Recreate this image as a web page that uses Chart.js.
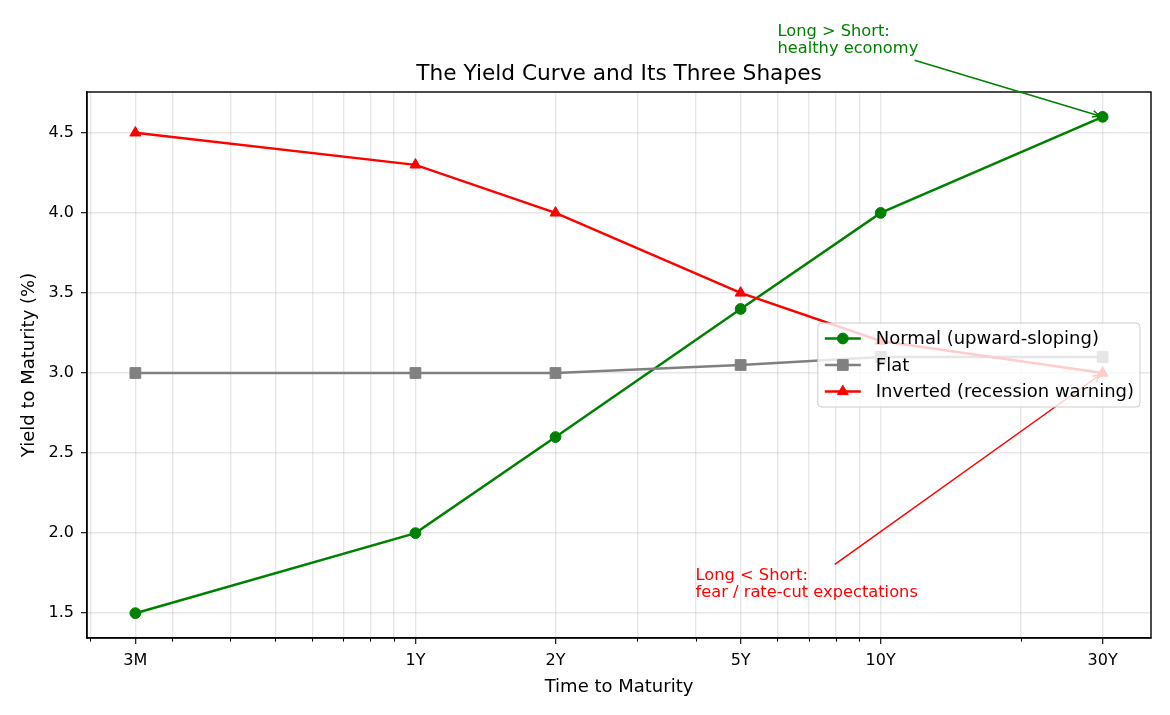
<!DOCTYPE html>
<html>
<head>
<meta charset="utf-8">
<script src="https://cdn.jsdelivr.net/npm/chart.js@4.4.1/dist/chart.umd.min.js"></script>
<style>
  html, body { margin: 0; padding: 0; background: #fff; }
</style>
</head>
<body>
<canvas id="chart" width="1170" height="715"></canvas>
<script>
// yield curve - three shapes on a log maturity axis

const maturities = [0.25, 1, 2, 5, 10, 30];
const maturityLabels = ['3M', '1Y', '2Y', '5Y', '10Y', '30Y'];
const normalYields = [1.5, 2.0, 2.6, 3.4, 4.0, 4.6];
const flatYields = [3.0, 3.0, 3.0, 3.05, 3.1, 3.1];
const invertedYields = [4.5, 4.3, 4.0, 3.5, 3.2, 3.0];
const minorTicks = [0.2, 0.3, 0.4, 0.5, 0.6, 0.7, 0.8, 0.9, 3, 4, 6, 7, 8, 9, 20];
const yTicks = [1.5, 2.0, 2.5, 3.0, 3.5, 4.0, 4.5];

const seriesNames = ['Normal (upward-sloping)', 'Flat', 'Inverted (recession warning)'];
const seriesColors = ['#008000', '#808080', '#ff0000'];
const seriesMarkers = ['circle', 'rect', 'triangle'];
const markerRadius = [5.4, 7.6, 6.3];

const notes = [
  { lines: ['Long > Short:', 'healthy economy'], at: [6, 5.0], target: [30, 4.6], color: '#008000' },
  { lines: ['Long < Short:', 'fear / rate-cut expectations'], at: [4, 1.6], target: [30, 3.0], color: '#ff0000' },
];

const FONT = '"DejaVu Sans", sans-serif';

// matplotlib-style 5% margins
const allYields = normalYields.concat(flatYields, invertedYields);
const yLo = Math.min(...allYields), yHi = Math.max(...allYields);
const yPad = (yHi - yLo) * 0.05;
const lx0 = Math.log10(maturities[0]), lx1 = Math.log10(maturities[maturities.length - 1]);
const xPad = (lx1 - lx0) * 0.05;

const toPoints = (vals) => vals.map((v, i) => ({ x: maturities[i], y: v }));
const seriesValues = [normalYields, flatYields, invertedYields];

const datasets = seriesValues.map((vals, i) => ({
  label: seriesNames[i],
  data: toPoints(vals),
  borderColor: seriesColors[i],
  backgroundColor: seriesColors[i],
  pointBackgroundColor: seriesColors[i],
  pointBorderColor: seriesColors[i],
  pointStyle: seriesMarkers[i],
  pointRadius: markerRadius[i],
  pointBorderWidth: 1,
  borderWidth: 2.5,
  tension: 0,
  order: 3 - i,
}));

const xTickValues = maturities.concat(minorTicks).sort((a, b) => a - b);

function drawArrow(ctx, x0, y0, x1, y1, color) {
  const ang = Math.atan2(y1 - y0, x1 - x0);
  const headLen = 8, spread = 0.42;
  ctx.save();
  ctx.strokeStyle = color;
  ctx.lineWidth = 1.5;
  ctx.beginPath();
  ctx.moveTo(x0, y0);
  ctx.lineTo(x1, y1);
  ctx.moveTo(x1 - headLen * Math.cos(ang - spread), y1 - headLen * Math.sin(ang - spread));
  ctx.lineTo(x1, y1);
  ctx.lineTo(x1 - headLen * Math.cos(ang + spread), y1 - headLen * Math.sin(ang + spread));
  ctx.stroke();
  ctx.restore();
}

const decorPlugin = {
  id: 'decor',
  afterDraw(chart) {
    const { ctx, chartArea: a, scales: { x, y } } = chart;
    ctx.save();

    // minor ticks on x
    ctx.strokeStyle = '#000';
    ctx.lineWidth = 1.1;
    minorTicks.forEach((v) => {
      const px = Math.round(x.getPixelForValue(v)) + 0.5;
      ctx.beginPath();
      ctx.moveTo(px, a.bottom);
      ctx.lineTo(px, a.bottom + 3.6);
      ctx.stroke();
    });

    // frame
    ctx.lineWidth = 1.4;
    ctx.strokeRect(a.left, a.top, a.right - a.left, a.bottom - a.top);

    // titles
    ctx.fillStyle = '#000';
    ctx.textBaseline = 'alphabetic';
    ctx.textAlign = 'center';
    const cx = (a.left + a.right) / 2;
    ctx.font = '21.7px ' + FONT;
    ctx.fillText('The Yield Curve and Its Three Shapes', cx, a.top - 12);
    ctx.font = '18px ' + FONT;
    ctx.fillText('Time to Maturity', cx, a.bottom + 54);
    ctx.save();
    ctx.translate(34, (a.top + a.bottom) / 2);
    ctx.rotate(-Math.PI / 2);
    ctx.fillText('Yield to Maturity (%)', 0, 0);
    ctx.restore();

    // annotations
    ctx.font = '16.25px ' + FONT;
    ctx.textAlign = 'left';
    const lineH = 17, pad = 3.5;
    notes.forEach((n) => {
      const tx = x.getPixelForValue(n.at[0]);
      const ty = y.getPixelForValue(n.at[1]);
      ctx.fillStyle = n.color;
      const last = n.lines.length - 1;
      n.lines.forEach((s, i) => ctx.fillText(s, tx, ty - (last - i) * lineH));
      const w = Math.max(...n.lines.map((s) => ctx.measureText(s).width));
      const bx0 = tx - pad, bx1 = tx + w + pad;
      const by0 = ty - last * lineH - 12.3 - pad, by1 = ty + 3.9 + pad;
      const bcx = (bx0 + bx1) / 2, bcy = (by0 + by1) / 2;
      const px = x.getPixelForValue(n.target[0]);
      const py = y.getPixelForValue(n.target[1]);
      const dx = px - bcx, dy = py - bcy;
      const t = Math.min((bx1 - bcx) / Math.abs(dx || 1e-9), (by1 - bcy) / Math.abs(dy || 1e-9));
      const sx = bcx + dx * t, sy = bcy + dy * t;
      const len = Math.hypot(px - sx, py - sy);
      const ex = px - (px - sx) / len * 3, ey = py - (py - sy) / len * 3;
      drawArrow(ctx, sx, sy, ex, ey, n.color);
    });

    // legend (center right, inside axes)
    ctx.font = '18px ' + FONT;
    const textW = Math.max(...seriesNames.map((s) => ctx.measureText(s).width));
    const boxW = 7 + 36 + 15 + textW + 6;
    const boxH = 84;
    const right = a.right - 11;
    const left = right - boxW;
    const midY = (a.top + a.bottom) / 2;
    const top = midY - boxH / 2;
    ctx.beginPath();
    ctx.roundRect(left, top, boxW, boxH, 4);
    ctx.fillStyle = 'rgba(255,255,255,0.8)';
    ctx.fill();
    ctx.strokeStyle = '#cccccc';
    ctx.lineWidth = 1;
    ctx.stroke();
    ctx.textBaseline = 'middle';
    seriesNames.forEach((name, i) => {
      const ry = midY + (i - 1) * 26.5;
      const hx0 = left + 7, hx1 = left + 43;
      ctx.strokeStyle = seriesColors[i];
      ctx.fillStyle = seriesColors[i];
      ctx.lineWidth = 2.5;
      ctx.beginPath();
      ctx.moveTo(hx0, ry);
      ctx.lineTo(hx1, ry);
      ctx.stroke();
      ctx.lineWidth = 1;
      Chart.helpers.drawPoint(ctx, { pointStyle: seriesMarkers[i], radius: markerRadius[i], rotation: 0, borderWidth: 1 }, (hx0 + hx1) / 2, ry);
      ctx.fillStyle = '#000';
      ctx.fillText(name, left + 58, ry + 1);
    });

    ctx.restore();
  },
};

Chart.defaults.font.family = FONT;
Chart.defaults.color = '#000';

new Chart(document.getElementById('chart'), {
  type: 'line',
  data: { datasets },
  options: {
    responsive: false,
    devicePixelRatio: 1,
    animation: false,
    layout: { padding: { top: 92, right: 19, left: 0, bottom: 0 } },
    plugins: {
      legend: { display: false },
      title: { display: false },
      tooltip: { enabled: false },
    },
    scales: {
      x: {
        type: 'logarithmic',
        min: Math.pow(10, lx0 - xPad),
        max: Math.pow(10, lx1 + xPad),
        afterBuildTicks: (s) => { s.ticks = xTickValues.map((v) => ({ value: v })); },
        afterFit: (s) => { s.height = 77; },
        border: { display: true, color: '#000', width: 1.4 },
        grid: {
          color: 'rgba(176,176,176,0.3)',
          lineWidth: 1.4,
          tickLength: 6,
          tickWidth: 1.1,
          tickColor: (c) => (maturities.includes(c.tick && c.tick.value) ? '#000' : 'rgba(0,0,0,0)'),
        },
        ticks: {
          autoSkip: false,
          maxRotation: 0,
          padding: 7,
          font: { size: 16 },
          callback: (v) => {
            const i = maturities.indexOf(v);
            return i >= 0 ? maturityLabels[i] : '';
          },
        },
      },
      y: {
        type: 'linear',
        min: yLo - yPad,
        max: yHi + yPad,
        afterBuildTicks: (s) => { s.ticks = yTicks.map((v) => ({ value: v })); },
        afterFit: (s) => { s.width = 87; },
        border: { display: true, color: '#000', width: 1.4 },
        grid: {
          color: 'rgba(176,176,176,0.3)',
          lineWidth: 1.4,
          tickLength: 6,
          tickWidth: 1.1,
          tickColor: '#000',
        },
        ticks: {
          padding: 7,
          font: { size: 16 },
          callback: (v) => Number(v).toFixed(1),
        },
      },
    },
  },
  plugins: [decorPlugin],
});
</script>
</body>
</html>
